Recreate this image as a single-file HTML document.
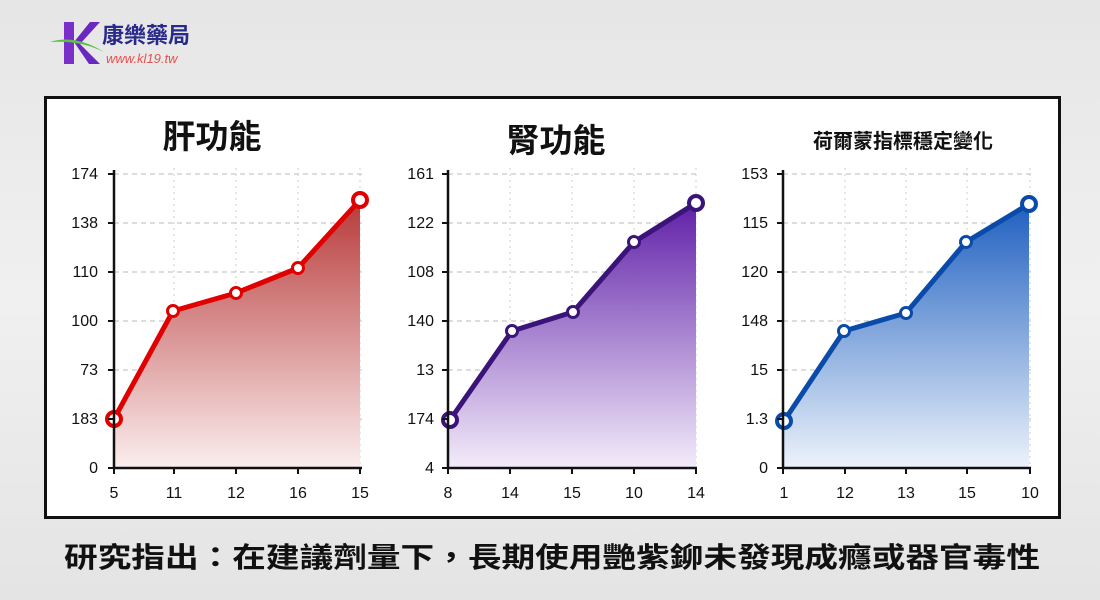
<!DOCTYPE html>
<html><head><meta charset="utf-8"><style>
html,body{margin:0;padding:0;width:1100px;height:600px;overflow:hidden;background:linear-gradient(#e6e6e6,#f0f0f0 50%,#e4e4e4);}
svg{display:block}
text{font-family:"Liberation Sans","Noto Sans CJK TC",sans-serif;}
</style></head><body>
<svg width="1100" height="600" viewBox="0 0 1100 600" xmlns="http://www.w3.org/2000/svg">
<defs>
<linearGradient id="g1" x1="0" y1="0" x2="0" y2="1"><stop offset="0" stop-color="#b83a3a"/><stop offset="1" stop-color="#fbeeee"/></linearGradient>
<linearGradient id="g2" x1="0" y1="0" x2="0" y2="1"><stop offset="0" stop-color="#6020a8"/><stop offset="1" stop-color="#f3ecfa"/></linearGradient>
<linearGradient id="g3" x1="0" y1="0" x2="0" y2="1"><stop offset="0" stop-color="#2060c0"/><stop offset="1" stop-color="#edf3fb"/></linearGradient>
</defs>
<!-- logo -->
<path d="M64 22 L74 22 L74 64 L64 64 Z" fill="#7a2fc8"/>
<path d="M74 42 L90 22 L100 22 L80 44 L100 64 L89 64 Z" fill="#6a28c0"/>
<path d="M50 42 Q75 34 104 52 Q80 40 50 42 Z" fill="#5cc04a"/>
<text x="102" y="43" font-size="22" font-weight="bold" fill="#2a2a8a">康樂藥局</text>
<text x="106" y="63" font-size="13" font-style="italic" fill="#e85050">www.kl19.tw</text>
<!-- frame -->
<rect x="45.5" y="97.5" width="1014" height="420" fill="#fff" stroke="#111" stroke-width="3"/>
<text x="212" y="148" font-size="33" font-weight="bold" text-anchor="middle" fill="#111">肝功能</text>
<text x="556" y="152" font-size="33" font-weight="bold" text-anchor="middle" fill="#111">腎功能</text>
<text x="903" y="148" font-size="20" font-weight="bold" text-anchor="middle" fill="#111">荷爾蒙指標穩定變化</text>

<g font-size="16" fill="#111" text-anchor="end">
<!-- chart 1 -->
<g stroke="#bbb" stroke-width="1" stroke-dasharray="5,4">
<line x1="114" y1="174" x2="362" y2="174"/><line x1="114" y1="223" x2="362" y2="223"/><line x1="114" y1="272" x2="362" y2="272"/><line x1="114" y1="321" x2="362" y2="321"/><line x1="114" y1="370" x2="362" y2="370"/><line x1="114" y1="419" x2="362" y2="419"/></g>
<g stroke="#ccc" stroke-width="1" stroke-dasharray="2,4"><line x1="174" y1="168" x2="174" y2="468"/><line x1="236" y1="168" x2="236" y2="468"/><line x1="298" y1="168" x2="298" y2="468"/><line x1="360" y1="168" x2="360" y2="468"/></g>
<polygon points="114,419 173,311 236,293 298,268 360,200 360,468 114,468" fill="url(#g1)"/>
<polyline points="114,419 173,311 236,293 298,268 360,200" fill="none" stroke="#e00000" stroke-width="5" stroke-linejoin="round"/>
<g stroke="#e00000" fill="#fff"><circle cx="114" cy="419" r="7" stroke-width="4"/><circle cx="173" cy="311" r="5.5" stroke-width="3"/><circle cx="236" cy="293" r="5.5" stroke-width="3"/><circle cx="298" cy="268" r="5.5" stroke-width="3"/><circle cx="360" cy="200" r="7" stroke-width="4"/></g>
<path d="M114 170 V468 H362" fill="none" stroke="#111" stroke-width="2.5"/>
<g stroke="#111" stroke-width="2"><line x1="108" y1="174" x2="114" y2="174"/><line x1="108" y1="223" x2="114" y2="223"/><line x1="108" y1="272" x2="114" y2="272"/><line x1="108" y1="321" x2="114" y2="321"/><line x1="108" y1="370" x2="114" y2="370"/><line x1="108" y1="419" x2="114" y2="419"/><line x1="108" y1="468" x2="114" y2="468"/>
<line x1="114" y1="468" x2="114" y2="474"/><line x1="174" y1="468" x2="174" y2="474"/><line x1="236" y1="468" x2="236" y2="474"/><line x1="298" y1="468" x2="298" y2="474"/><line x1="360" y1="468" x2="360" y2="474"/></g>
<text x="98" y="179">174</text><text x="98" y="228">138</text><text x="98" y="277">110</text><text x="98" y="326">100</text><text x="98" y="375">73</text><text x="98" y="424">183</text><text x="98" y="473">0</text>
<g text-anchor="middle"><text x="114" y="498">5</text><text x="174" y="498">11</text><text x="236" y="498">12</text><text x="298" y="498">16</text><text x="360" y="498">15</text></g>

<!-- chart 2 -->
<g stroke="#bbb" stroke-width="1" stroke-dasharray="5,4">
<line x1="448" y1="174" x2="697" y2="174"/><line x1="448" y1="223" x2="697" y2="223"/><line x1="448" y1="272" x2="697" y2="272"/><line x1="448" y1="321" x2="697" y2="321"/><line x1="448" y1="370" x2="697" y2="370"/><line x1="448" y1="419" x2="697" y2="419"/></g>
<g stroke="#ccc" stroke-width="1" stroke-dasharray="2,4"><line x1="510" y1="168" x2="510" y2="468"/><line x1="572" y1="168" x2="572" y2="468"/><line x1="634" y1="168" x2="634" y2="468"/><line x1="696" y1="168" x2="696" y2="468"/></g>
<polygon points="450,420 512,331 573,312 634,242 696,203 696,468 448,468" fill="url(#g2)"/>
<polyline points="450,420 512,331 573,312 634,242 696,203" fill="none" stroke="#3a1478" stroke-width="5" stroke-linejoin="round"/>
<g stroke="#3a1478" fill="#fff"><circle cx="450" cy="420" r="7" stroke-width="4"/><circle cx="512" cy="331" r="5.5" stroke-width="3"/><circle cx="573" cy="312" r="5.5" stroke-width="3"/><circle cx="634" cy="242" r="5.5" stroke-width="3"/><circle cx="696" cy="203" r="7" stroke-width="4"/></g>
<path d="M448 170 V468 H697" fill="none" stroke="#111" stroke-width="2.5"/>
<g stroke="#111" stroke-width="2"><line x1="442" y1="174" x2="448" y2="174"/><line x1="442" y1="223" x2="448" y2="223"/><line x1="442" y1="272" x2="448" y2="272"/><line x1="442" y1="321" x2="448" y2="321"/><line x1="442" y1="370" x2="448" y2="370"/><line x1="442" y1="419" x2="448" y2="419"/><line x1="442" y1="468" x2="448" y2="468"/>
<line x1="448" y1="468" x2="448" y2="474"/><line x1="510" y1="468" x2="510" y2="474"/><line x1="572" y1="468" x2="572" y2="474"/><line x1="634" y1="468" x2="634" y2="474"/><line x1="696" y1="468" x2="696" y2="474"/></g>
<text x="434" y="179">161</text><text x="434" y="228">122</text><text x="434" y="277">108</text><text x="434" y="326">140</text><text x="434" y="375">13</text><text x="434" y="424">174</text><text x="434" y="473">4</text>
<g text-anchor="middle"><text x="448" y="498">8</text><text x="510" y="498">14</text><text x="572" y="498">15</text><text x="634" y="498">10</text><text x="696" y="498">14</text></g>

<!-- chart 3 -->
<g stroke="#bbb" stroke-width="1" stroke-dasharray="5,4">
<line x1="783" y1="174" x2="1031" y2="174"/><line x1="783" y1="223" x2="1031" y2="223"/><line x1="783" y1="272" x2="1031" y2="272"/><line x1="783" y1="321" x2="1031" y2="321"/><line x1="783" y1="370" x2="1031" y2="370"/><line x1="783" y1="419" x2="1031" y2="419"/></g>
<g stroke="#ccc" stroke-width="1" stroke-dasharray="2,4"><line x1="845" y1="168" x2="845" y2="468"/><line x1="906" y1="168" x2="906" y2="468"/><line x1="967" y1="168" x2="967" y2="468"/><line x1="1030" y1="168" x2="1030" y2="468"/></g>
<polygon points="784,421 844,331 906,313 966,242 1029,204 1029,468 783,468" fill="url(#g3)"/>
<polyline points="784,421 844,331 906,313 966,242 1029,204" fill="none" stroke="#0a4aa8" stroke-width="5" stroke-linejoin="round"/>
<g stroke="#0a4aa8" fill="#fff"><circle cx="784" cy="421" r="7" stroke-width="4"/><circle cx="844" cy="331" r="5.5" stroke-width="3"/><circle cx="906" cy="313" r="5.5" stroke-width="3"/><circle cx="966" cy="242" r="5.5" stroke-width="3"/><circle cx="1029" cy="204" r="7" stroke-width="4"/></g>
<path d="M783 170 V468 H1031" fill="none" stroke="#111" stroke-width="2.5"/>
<g stroke="#111" stroke-width="2"><line x1="777" y1="174" x2="783" y2="174"/><line x1="777" y1="223" x2="783" y2="223"/><line x1="777" y1="272" x2="783" y2="272"/><line x1="777" y1="321" x2="783" y2="321"/><line x1="777" y1="370" x2="783" y2="370"/><line x1="777" y1="419" x2="783" y2="419"/><line x1="777" y1="468" x2="783" y2="468"/>
<line x1="783" y1="468" x2="783" y2="474"/><line x1="845" y1="468" x2="845" y2="474"/><line x1="906" y1="468" x2="906" y2="474"/><line x1="967" y1="468" x2="967" y2="474"/><line x1="1030" y1="468" x2="1030" y2="474"/></g>
<text x="768" y="179">153</text><text x="768" y="228">115</text><text x="768" y="277">120</text><text x="768" y="326">148</text><text x="768" y="375">15</text><text x="768" y="424">1.3</text><text x="768" y="473">0</text>
<g text-anchor="middle"><text x="784" y="498">1</text><text x="845" y="498">12</text><text x="906" y="498">13</text><text x="967" y="498">15</text><text x="1030" y="498">10</text></g>
</g>

<text x="552" y="567" font-size="28" font-weight="bold" text-anchor="middle" fill="#111" textLength="976" lengthAdjust="spacingAndGlyphs">研究指出：在建議劑量下，長期使用艷紫鉚未發現成癮或器官毒性</text>
</svg>
</body></html>
